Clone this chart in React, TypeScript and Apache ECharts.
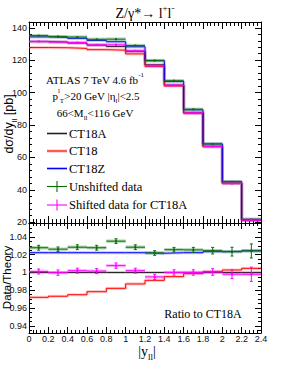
import React, { useEffect, useRef } from "react";
import * as echarts from "echarts";

// ---- data ----
const binEdges = [0, 0.2, 0.4, 0.6, 0.8, 1.0, 1.2, 1.4, 1.6, 1.8, 2.0, 2.2, 2.4];
const binCenters = [0.1, 0.3, 0.5, 0.7, 0.9, 1.1, 1.3, 1.5, 1.7, 1.9, 2.1, 2.3];

// top panel: dσ/dy_ll [pb]
const ct18a = [131.5, 131.2, 130.6, 129.3, 128.5, 125.5, 117.2, 104.6, 87.5, 66.7, 44.0, 21.2];
const ct18 = [127.8, 127.7, 127.3, 126.5, 126.2, 123.9, 116.2, 104.1, 87.4, 66.8, 44.1, 21.3];
const ct18z = [134.4, 134.1, 133.5, 132.2, 131.4, 128.3, 119.7, 106.9, 89.4, 68.3, 45.0, 21.7];
const unshifted = [135.2, 134.6, 134.3, 132.9, 133.0, 129.1, 119.8, 107.3, 89.7, 68.3, 45.0, 21.7];
const unshiftedErr = [0.36, 0.33, 0.35, 0.35, 0.35, 0.34, 0.3, 0.27, 0.25, 0.25, 0.22, 0.17];
const shifted = [131.6, 131.2, 130.9, 129.5, 129.5, 125.8, 116.6, 104.6, 87.5, 66.7, 43.9, 21.2];
const shiftedErr = [0.36, 0.33, 0.35, 0.35, 0.35, 0.34, 0.3, 0.27, 0.25, 0.25, 0.22, 0.17];

// bottom panel: ratio to CT18A
const ratioCT18A = [1, 1, 1, 1, 1, 1, 1, 1, 1, 1, 1, 1];
const ratioCT18 = [0.9721, 0.9733, 0.975, 0.9784, 0.9822, 0.9871, 0.9912, 0.9953, 0.9987, 1.0009, 1.0028, 1.0047];
const ratioCT18Z = [1.0222, 1.0222, 1.0222, 1.0222, 1.0222, 1.0222, 1.0216, 1.0222, 1.0222, 1.0234, 1.0237, 1.0245];
const ratioUnshifted = [1.0278, 1.0262, 1.0284, 1.0278, 1.0352, 1.0284, 1.0219, 1.0256, 1.0254, 1.0245, 1.0234, 1.0242];
const ratioUnshiftedErr = [0.0027, 0.0025, 0.0027, 0.0027, 0.0027, 0.0027, 0.0026, 0.0026, 0.0028, 0.0037, 0.0049, 0.0079];
const ratioShifted = [1.0011, 0.9998, 1.002, 1.0016, 1.0077, 1.002, 0.995, 1.0, 1.0, 1.0006, 0.9981, 0.998];
const ratioShiftedErr = [0.0028, 0.003, 0.0028, 0.0028, 0.003, 0.0028, 0.003, 0.003, 0.003, 0.0037, 0.005, 0.008];

// axis ranges / ticks
const topMin = 19.5;
const topMax = 143.6;
const topMajor = 20;
const topMinor = 4;
const botMin = 0.932;
const botMax = 1.0556;
const botMajor = 0.02;
const botMinor = 0.005;
const xMin = 0;
const xMax = 2.4;
const xMajor = 0.2;

// ---- styles ----
const C_BLACK = "#222222";
const C_RED = "#ff0000";
const C_BLUE = "#0000ff";
const C_GREEN = "#0b6b0b";
const C_MAG = "#ff00ff";
const SANS = "'Liberation Sans', Arial, sans-serif";
const SERIF = "'Liberation Serif', 'Times New Roman', serif";

const stepData = (vals: number[]) =>
  binEdges.map((x, i) => [x, vals[Math.min(i, vals.length - 1)]]);

const pointData = (vals: number[], errs: number[]) =>
  binCenters.map((c, i) => [c, vals[i], errs[i], binEdges[i], binEdges[i + 1]]);

const makeRender = (color: string, band: string) => (params: any, api: any) => {
  const x = api.value(0);
  const y = api.value(1);
  const e = api.value(2);
  const x0 = api.value(3);
  const x1 = api.value(4);
  const pL = api.coord([x0, y]);
  const pR = api.coord([x1, y]);
  const pC = api.coord([x, y]);
  const pLo = api.coord([x, y - e]);
  const pHi = api.coord([x, y + e]);
  const children: any[] = [
    { type: "rect", shape: { x: pL[0], y: pC[1] - 1.7, width: pR[0] - pL[0], height: 3.4 }, style: { fill: band } },
    { type: "line", shape: { x1: pL[0], y1: pC[1], x2: pR[0], y2: pC[1] }, style: { stroke: color, lineWidth: 1 } },
    { type: "line", shape: { x1: pC[0], y1: pLo[1], x2: pC[0], y2: pHi[1] }, style: { stroke: color, lineWidth: 1 } },
    { type: "rect", shape: { x: pC[0] - 1, y: pC[1] - 1, width: 2, height: 2 }, style: { fill: color } },
  ];
  if (Math.abs(pLo[1] - pHi[1]) > 3) {
    children.push(
      { type: "line", shape: { x1: pC[0] - 1.5, y1: pLo[1], x2: pC[0] + 1.5, y2: pLo[1] }, style: { stroke: color, lineWidth: 1 } },
      { type: "line", shape: { x1: pC[0] - 1.5, y1: pHi[1], x2: pC[0] + 1.5, y2: pHi[1] }, style: { stroke: color, lineWidth: 1 } }
    );
  }
  return { type: "group", children };
};

const lineSeries = (name: string, vals: number[], color: string, xi: number, yi: number, z: number) => [
  {
    name: name + "-band",
    type: "line",
    step: "end",
    xAxisIndex: xi,
    yAxisIndex: yi,
    data: stepData(vals),
    showSymbol: false,
    silent: true,
    z: 1,
    lineStyle: { color, width: 3.2, opacity: 0.2 },
  },
  {
    name,
    type: "line",
    step: "end",
    xAxisIndex: xi,
    yAxisIndex: yi,
    data: stepData(vals),
    showSymbol: false,
    silent: true,
    z,
    lineStyle: { color, width: 1 },
  },
];

const dataSeries = (name: string, vals: number[], errs: number[], color: string, band: string, xi: number, yi: number, z: number) => ({
  name,
  type: "custom",
  xAxisIndex: xi,
  yAxisIndex: yi,
  z,
  silent: true,
  dimensions: ["x", "y", "e", "x0", "x1"],
  encode: { x: 0, y: 1 },
  data: pointData(vals, errs),
  renderItem: makeRender(color, band),
});

const tickStyle = { color: "#000", width: 1 };

const xAxisDef = (grid: number, pos: string, labels: boolean, majorLen: number, minorLen: number) => ({
  gridIndex: grid,
  type: "value",
  position: pos,
  min: xMin,
  max: xMax,
  interval: xMajor,
  axisLine: { show: true, onZero: false, lineStyle: tickStyle },
  axisTick: { show: true, inside: true, length: majorLen, lineStyle: tickStyle },
  minorTick: { show: true, splitNumber: 5, length: minorLen, lineStyle: tickStyle },
  splitLine: { show: false },
  minorSplitLine: { show: false },
  axisLabel: labels
    ? { show: true, fontSize: 9, fontFamily: SANS, color: "#111", margin: 1 }
    : { show: false },
});

const yAxisDef = (
  grid: number,
  pos: string,
  min: number,
  max: number,
  step: number,
  labels: boolean,
  line: boolean,
  len: number
) => ({
  gridIndex: grid,
  type: "value",
  position: pos,
  min,
  max,
  minInterval: step,
  maxInterval: step,
  axisLine: { show: line, onZero: false, lineStyle: tickStyle },
  axisTick: { show: true, inside: true, length: len, lineStyle: tickStyle },
  splitLine: { show: false },
  axisLabel: labels
    ? { show: true, fontSize: 9, fontFamily: SANS, color: "#111", margin: 2, showMinLabel: false, showMaxLabel: false }
    : { show: false },
});

const sub = (size: number) => ({ fontSize: size, lineHeight: size, verticalAlign: "bottom" });
const sup = (size: number) => ({ fontSize: size, lineHeight: size, verticalAlign: "top" });

const serifText = (x: number, y: number, text: string, size: number) => ({
  type: "text",
  x,
  y,
  style: {
    text,
    align: "center",
    verticalAlign: "middle",
    fill: "#000",
    fontFamily: SERIF,
    fontSize: size,
    rich: {
      n: { fontFamily: SERIF, fontSize: size, lineHeight: size + 6, verticalAlign: "middle", fill: "#000" },
      sb: { fontFamily: SERIF, ...sub(Math.round(size * 0.65)), fill: "#000" },
      sp: { fontFamily: SERIF, ...sup(Math.round(size * 0.65)), fill: "#000" },
    },
  },
});

const legendItems = [
  { label: "CT18A", color: C_BLACK, kind: "line", y: 133.5 },
  { label: "CT18", color: C_RED, kind: "line", y: 151 },
  { label: "CT18Z", color: C_BLUE, kind: "line", y: 168.5 },
  { label: "Unshifted data", color: C_GREEN, kind: "data", y: 186.5 },
  { label: "Shifted data for CT18A", color: C_MAG, kind: "data", y: 205 },
];

const legendGraphics: any[] = [];
legendItems.forEach((it) => {
  if (it.kind === "line") {
    legendGraphics.push(
      { type: "line", shape: { x1: 47, y1: it.y, x2: 67, y2: it.y }, style: { stroke: it.color, lineWidth: 3, opacity: 0.3 } },
      { type: "line", shape: { x1: 47, y1: it.y, x2: 67, y2: it.y }, style: { stroke: it.color, lineWidth: 1 } }
    );
  } else {
    legendGraphics.push(
      { type: "line", shape: { x1: 47, y1: it.y, x2: 67, y2: it.y }, style: { stroke: it.color, lineWidth: 1.1 } },
      { type: "line", shape: { x1: 57, y1: it.y - 5.5, x2: 57, y2: it.y + 5.5 }, style: { stroke: it.color, lineWidth: 1.1 } }
    );
  }
  legendGraphics.push({
    type: "text",
    x: 69,
    y: it.y,
    style: { text: it.label, fontFamily: SERIF, fontSize: 12.5, fill: "#000", align: "left", verticalAlign: "middle" },
  });
});

const option: any = {
  animation: false,
  backgroundColor: "#ffffff",
  grid: [
    { left: 29, top: 22, width: 232, height: 201, containLabel: false },
    { left: 29, top: 223, width: 232, height: 110, containLabel: false },
  ],
  xAxis: [
    xAxisDef(0, "bottom", false, 7, 4),
    xAxisDef(0, "top", false, 7, 4),
    xAxisDef(1, "bottom", true, 6, 3),
    xAxisDef(1, "top", false, 6, 3),
  ],
  yAxis: [
    yAxisDef(0, "left", topMin, topMax, topMajor, true, true, 6),
    yAxisDef(0, "left", topMin, topMax, topMinor, false, false, 3),
    yAxisDef(0, "right", topMin, topMax, topMajor, false, true, 6),
    yAxisDef(0, "right", topMin, topMax, topMinor, false, false, 3),
    yAxisDef(1, "left", botMin, botMax, botMajor, true, true, 6),
    yAxisDef(1, "left", botMin, botMax, botMinor, false, false, 3),
    yAxisDef(1, "right", botMin, botMax, botMajor, false, true, 6),
    yAxisDef(1, "right", botMin, botMax, botMinor, false, false, 3),
  ],
  series: [
    ...lineSeries("CT18A", ct18a, C_BLACK, 0, 0, 2),
    ...lineSeries("CT18", ct18, C_RED, 0, 0, 3),
    ...lineSeries("CT18Z", ct18z, C_BLUE, 0, 0, 4),
    dataSeries("Unshifted data", unshifted, unshiftedErr, C_GREEN, "rgba(40,140,40,0.35)", 0, 0, 5),
    dataSeries("Shifted data for CT18A", shifted, shiftedErr, C_MAG, "rgba(255,0,255,0.28)", 0, 0, 6),
    ...lineSeries("CT18A ratio", ratioCT18A, C_BLACK, 2, 4, 2),
    ...lineSeries("CT18 ratio", ratioCT18, C_RED, 2, 4, 3),
    ...lineSeries("CT18Z ratio", ratioCT18Z, C_BLUE, 2, 4, 4),
    dataSeries("Unshifted ratio", ratioUnshifted, ratioUnshiftedErr, C_GREEN, "rgba(40,140,40,0.35)", 2, 4, 5),
    dataSeries("Shifted ratio", ratioShifted, ratioShiftedErr, C_MAG, "rgba(255,0,255,0.28)", 2, 4, 6),
  ],
  graphic: [
    serifText(145, 13, "{n|Z/γ*→ l}{sp|+}{n|l}{sp|-}", 14),
    serifText(95, 80, "{n|ATLAS 7 TeV 4.6 fb}{sp|-1}", 11),
    serifText(96, 96, "{n|p}{sp|l}{sb|T}{n|>20 GeV |η}{sb|l}{n||<2.5}", 11),
    serifText(95, 113, "{n|66<M}{sb|ll}{n|<116 GeV}", 11),
    serifText(203, 314, "{n|Ratio to CT18A}", 12),
    serifText(147, 351, "{n||y}{sb|ll}{n||}", 14),
    {
      type: "text",
      x: 9,
      y: 124,
      rotation: Math.PI / 2,
      style: {
        text: "{n|dσ/dy}{sb|ll}{n| [pb]}",
        align: "center",
        verticalAlign: "middle",
        rich: {
          n: { fontFamily: SANS, fontSize: 12.5, lineHeight: 18, verticalAlign: "middle", fill: "#000" },
          sb: { fontFamily: SANS, fontSize: 8, lineHeight: 8, verticalAlign: "bottom", fill: "#000" },
        },
      },
    },
    {
      type: "text",
      x: 6.5,
      y: 277.5,
      rotation: Math.PI / 2,
      style: {
        text: "Data/Theory",
        align: "center",
        verticalAlign: "middle",
        fontFamily: SANS,
        fontSize: 11.5,
        fill: "#000",
      },
    },
    ...legendGraphics,
  ],
};

export default function App() {
  const ref = useRef<HTMLDivElement>(null);
  useEffect(() => {
    const chart = echarts.init(ref.current as HTMLDivElement, null, { renderer: "svg" });
    chart.setOption(option);
    return () => chart.dispose();
  }, []);
  return (
    <div
      ref={ref}
      style={{ width: 291, height: 376, position: "absolute", left: 0, top: 0, background: "#fff" }}
    />
  );
}
